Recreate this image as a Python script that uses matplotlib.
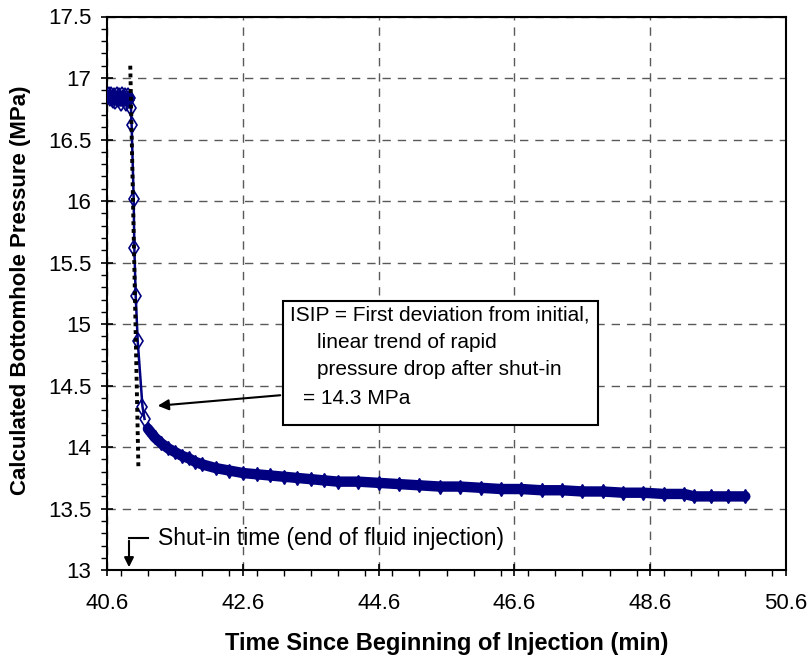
import matplotlib
matplotlib.use("Agg")
import matplotlib.pyplot as plt
from matplotlib.patches import Rectangle
from matplotlib.ticker import MultipleLocator

plt.rcParams['font.family'] = ['Liberation Sans', 'DejaVu Sans']

# plateau before shut-in
t_plateau = [40.62, 40.64, 40.66, 40.68, 40.70, 40.72, 40.74, 40.76, 40.78, 40.80,
             40.82, 40.84, 40.86, 40.88, 40.90, 40.92, 40.94]
p_plateau = [16.86, 16.84, 16.86, 16.82, 16.85, 16.81, 16.86, 16.83, 16.85, 16.80,
             16.86, 16.84, 16.85, 16.80, 16.85, 16.82, 16.84]

# rapid drop after shut-in
t_drop = [40.95, 40.96, 40.99, 41.00, 41.02, 41.05, 41.12, 41.15]
p_drop = [16.76, 16.62, 16.02, 15.62, 15.23, 14.86, 14.33, 14.23]

# slow decline
t_tail = [41.20, 41.30, 41.40, 41.50, 41.60, 41.70, 41.80, 41.90, 42.00, 42.20,
          42.40, 42.60, 42.80, 43.00, 43.20, 43.40, 43.60, 43.80, 44.00, 44.30,
          44.60, 44.90, 45.20, 45.50, 45.80, 46.10, 46.40, 46.70, 47.00, 47.30,
          47.60, 47.90, 48.20, 48.50, 48.80, 49.10, 49.25, 49.50, 49.75, 50.00]
p_tail = [14.15, 14.08, 14.03, 13.99, 13.96, 13.93, 13.91, 13.88, 13.86, 13.83,
          13.81, 13.79, 13.78, 13.77, 13.76, 13.75, 13.74, 13.73, 13.72, 13.72,
          13.71, 13.70, 13.69, 13.68, 13.68, 13.67, 13.66, 13.66, 13.65, 13.65,
          13.64, 13.64, 13.63, 13.63, 13.62, 13.62, 13.60, 13.60, 13.60, 13.60]

# dotted trend line of rapid drop
t_trend = [40.94, 41.06]
p_trend = [17.10, 13.83]

navy = '#000080'

fig = plt.figure(figsize=(8.12, 6.6), dpi=100)
ax = fig.add_axes([0.132, 0.136, 0.836, 0.839])

ax.plot(t_tail, p_tail, color=navy, lw=7.5, solid_capstyle='round', zorder=3)
ax.plot(t_plateau, p_plateau, color=navy, lw=6, solid_capstyle='round', zorder=3)
ax.plot(t_plateau + t_drop, p_plateau + p_drop, color=navy, lw=1.8, marker='d',
        markersize=8, mfc='none', mec=navy, mew=1.2, zorder=4)
ax.plot(t_tail, p_tail, color=navy, lw=0, marker='d', markersize=7,
        mfc=navy, mec=navy, mew=1, zorder=4)
ax.plot(t_trend, p_trend, color='black', lw=2.8, linestyle=(0, (1, 1)), zorder=5)

ax.set_xlim(40.6, 50.6)
ax.set_ylim(13, 17.5)
ax.xaxis.set_minor_locator(MultipleLocator(0.4))
ax.yaxis.set_minor_locator(MultipleLocator(0.1))
ax.set_xticks([40.6, 42.6, 44.6, 46.6, 48.6, 50.6])
ax.set_xticklabels(['40.6', '42.6', '44.6', '46.6', '48.6', '50.6'])
ax.set_yticks([13, 13.5, 14, 14.5, 15, 15.5, 16, 16.5, 17, 17.5])
ax.set_yticklabels(['13', '13.5', '14', '14.5', '15', '15.5', '16', '16.5', '17', '17.5'])
ax.tick_params(which='major', direction='inout', length=9, width=1.2, labelsize=16)
ax.tick_params(axis='x', which='major', pad=12)
ax.tick_params(axis='y', which='major', pad=7)
ax.tick_params(which='minor', direction='out', length=4, width=1)
ax.grid(True, which='major', color='0.35', linestyle=(0, (6, 5)), lw=1)
for s in ax.spines.values():
    s.set_linewidth(1.5)

ax.set_xlabel('Time Since Beginning of Injection (min)', fontsize=17, fontweight='bold', va='center')
ax.set_ylabel('Calculated Bottomhole Pressure (MPa)', fontsize=16, fontweight='bold', va='center')
ax.xaxis.set_label_coords(0.5, -0.132)
ax.yaxis.set_label_coords(-0.128, 0.506)

# ISIP annotation box (figure pixels -> fraction)
W, H = 812.0, 660.0
fig.patches.append(Rectangle((282.7 / W, 1 - 425 / H), (598 - 282.7) / W, (425 - 300.7) / H,
                             transform=fig.transFigure, facecolor='white', edgecolor='black',
                             lw=1.5, zorder=10))
fs = 15
fig.text(290 / W, 1 - 315 / H, 'ISIP = First deviation from initial,', fontsize=fs, va='center', zorder=11)
fig.text(316.7 / W, 1 - 343 / H, 'linear trend of rapid', fontsize=fs, va='center', zorder=11)
fig.text(316.7 / W, 1 - 370 / H, 'pressure drop after shut-in', fontsize=fs, va='center', zorder=11)
fig.text(302.7 / W, 1 - 398 / H, '= 14.3 MPa', fontsize=fs, va='center', zorder=11)

ax.annotate('', xy=(155 / W, 1 - 406 / H), xycoords='figure fraction',
            xytext=(283 / W, 1 - 395 / H), textcoords='figure fraction',
            arrowprops=dict(arrowstyle='-|>', color='black', lw=1.5, mutation_scale=16))

# shut-in arrow
ax.annotate('', xy=(129 / W, 1 - 570 / H), xycoords='figure fraction',
            xytext=(129 / W, 1 - 538 / H), textcoords='figure fraction',
            arrowprops=dict(arrowstyle='-|>', color='black', lw=1.5, mutation_scale=14))
ax.plot([129 / W, 148 / W], [1 - 538 / H, 1 - 538 / H], color='black', lw=1.5,
        transform=fig.transFigure, clip_on=False)
fig.text(158 / W, 1 - 538 / H, 'Shut-in time (end of fluid injection)', fontsize=16.5, va='center')

fig.savefig('out.png', dpi=100)
